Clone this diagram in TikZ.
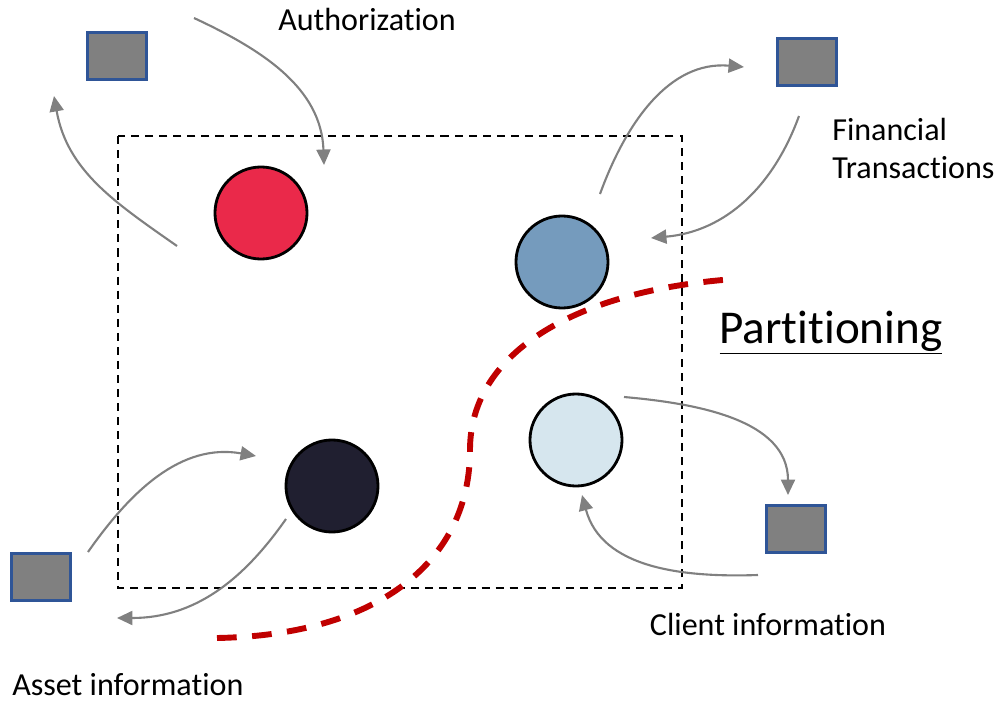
\documentclass[tikz,border=0pt]{standalone}
\usepackage{fontspec}
\setmainfont{Carlito}[Ligatures=NoCommon]
\usetikzlibrary{arrows.meta,positioning}
\definecolor{authred}{RGB}{234,41,74}
\definecolor{finblue}{RGB}{117,155,189}
\definecolor{assetnavy}{RGB}{32,31,48}
\definecolor{clientblue}{RGB}{214,230,238}
\definecolor{boxblue}{RGB}{47,85,151}
\definecolor{splitred}{RGB}{192,0,0}
\tikzset{
  main/.style={circle, minimum size=2.3cm, inner sep=0pt, line width=2pt, draw=black},
  box/.style={rectangle, minimum width=1.475cm, minimum height=1.175cm, inner sep=0pt, fill=gray, draw=boxblue, line width=1.6pt},
  connect/.style={-{Triangle[length=11pt,width=10pt]}, line width=1.5pt, draw=gray},
  txt/.style={inner sep=0pt, font=\fontsize{22.8}{27}\selectfont},
  split/.style={draw=splitred, line width=4.2pt, dash pattern=on 14pt off 11pt}
}

\begin{document}
\begin{tikzpicture}[x=0.025cm, y=-0.025cm]
    \useasboundingbox (0,0) rectangle (996,704);

    % the service boundary
    \draw [line width=1.6pt, dash pattern=on 5.7pt off 4.3pt] (118,136) rectangle (682,588);

    \node[main,fill=authred] (Auth) at (261,213) {};
    \node[main,fill=finblue] (Fin) at (562,262) {};
    \node[main,fill=assetnavy] (Asset) at (332,486) {};
    \node[main,fill=clientblue] (Client) at (576,440) {};

    \node[box] (AuthDB) at (117,56) {};
    \node[box] (FinDB) at (807,62) {};
    \node[box] (AssetDB) at (41,577) {};
    \node[box] (ClientDB) at (796,529) {};

    \node[txt,anchor=base] (AuthLbl) at (367,30) {Authorization};
    \node[txt,anchor=north west,align=left] (FinLbl) at (832,118) {Financial\\Transactions};
    \node[txt,anchor=base] (ClientLbl) at (768,635) {Client information};
    \node[txt,anchor=base west] (AssetLbl) at (12,695) {Asset information};
    \node[txt,anchor=base,font=\fontsize{33.5}{40}\selectfont] (Part) at (831,343) {\underline{Partitioning}};

    % arrow ends
    \coordinate (a1) at (194,18);   \coordinate (a2) at (324,165);
    \coordinate (a3) at (177,246);  \coordinate (a4) at (54,96);
    \coordinate (f1) at (600,194);  \coordinate (f2) at (744,67);
    \coordinate (f3) at (799,116);  \coordinate (f4) at (651,238);
    \coordinate (c1) at (624,397);  \coordinate (c2) at (788,495);
    \coordinate (c3) at (758,575);  \coordinate (c4) at (582,495);
    \coordinate (s1) at (88,552);   \coordinate (s2) at (256,456);
    \coordinate (s3) at (286,519);  \coordinate (s4) at (117,618);

    \path (a1) edge [connect, out=-25, in=92] (a2)
          (a3) edge [connect, out=145, in=-80] (a4)
          (f1) edge [connect, out=70, in=175] (f2)
          (f3) edge [connect, out=-110, in=5] (f4)
          (c1) edge [connect, out=-5, in=90] (c2)
          (c3) edge [connect, out=182, in=-75] (c4)
          (s1) edge [connect, out=55, in=170] (s2)
          (s3) edge [connect, out=-125, in=0] (s4);

    % draw the partition line
    \draw [split] (217,638) .. controls (380,635) and (470,560) .. (470,450)
        .. controls (470,350) and (580,290) .. (735,279);
\end{tikzpicture}
\end{document}
